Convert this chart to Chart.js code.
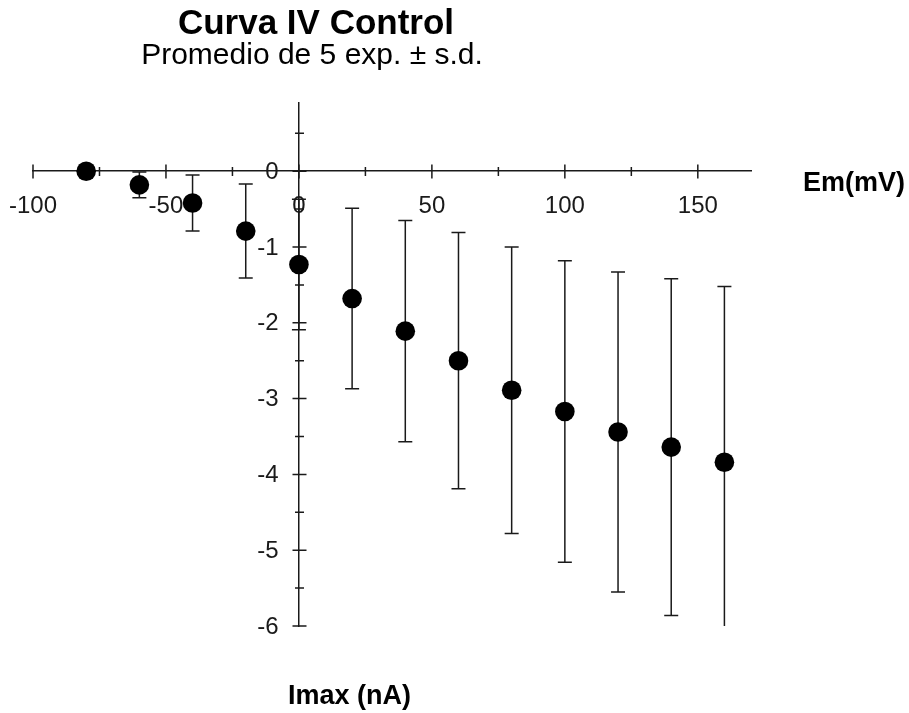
<!DOCTYPE html>
<html>
<head>
<meta charset="utf-8">
<title>Curva IV Control</title>
<script src="https://cdn.jsdelivr.net/npm/chart.js@4/dist/chart.umd.min.js"></script>
<style>
  html, body { margin: 0; padding: 0; background: #ffffff; }
  #wrap { width: 909px; height: 713px; }
</style>
</head>
<body>
<div id="wrap"><canvas id="ivChart" width="909" height="713"></canvas></div>
<script>
// Membrane potential steps (mV)
const voltages = [-80, -60, -40, -20, 0, 20, 40, 60, 80, 100, 120, 140, 160];
// Mean peak current (nA), n = 5
const currentMean = [0, -0.18, -0.42, -0.79, -1.23, -1.68, -2.11, -2.50, -2.89, -3.17, -3.44, -3.64, -3.84];
// Standard deviation (nA)
const currentSD = [0.03, 0.17, 0.37, 0.62, 0.86, 1.19, 1.46, 1.69, 1.89, 1.99, 2.11, 2.22, 2.32];

// Axis tick positions and their labels (empty label = minor tick)
const xTicks = [-100, -75, -50, -25, 0, 25, 50, 75, 100, 125, 150];
const xTickLabels = ['-100', '', '-50', '', '0', '', '50', '', '100', '', '150'];
const yTicks = [-6, -5.5, -5, -4.5, -4, -3.5, -3, -2.5, -2, -1.5, -1, -0.5, 0, 0.5];
const yTickLabels = ['-6', '', '-5', '', '-4', '', '-3', '', '-2', '', '-1', '', '0', ''];

const INK = '#1a1a1a';
const FONT = "'Liberation Sans', Arial, Helvetica, sans-serif";

// Error bars (mean ± s.d.) drawn under the markers, clipped to the plot area
const errorBars = {
  id: 'errorBars',
  beforeDatasetsDraw(chart) {
    const {ctx, chartArea, scales: {x, y}} = chart;
    ctx.save();
    ctx.beginPath();
    ctx.rect(chartArea.left, chartArea.top, chartArea.right - chartArea.left, chartArea.bottom - chartArea.top);
    ctx.clip();
    ctx.strokeStyle = INK;
    ctx.lineWidth = 1.5;
    const cap = 7;
    voltages.forEach((v, i) => {
      const px = x.getPixelForValue(v);
      const top = y.getPixelForValue(currentMean[i] + currentSD[i]);
      const bot = y.getPixelForValue(currentMean[i] - currentSD[i]);
      ctx.beginPath();
      ctx.moveTo(px, top); ctx.lineTo(px, bot);
      ctx.moveTo(px - cap, top); ctx.lineTo(px + cap, top);
      ctx.moveTo(px - cap, bot); ctx.lineTo(px + cap, bot);
      ctx.stroke();
    });
    ctx.restore();
  }
};

// Tick marks crossing both axis lines, plus the current-axis labels left of the line
const crossTicks = {
  id: 'crossTicks',
  beforeDatasetsDraw(chart) {
    const {ctx, scales: {x, y}} = chart;
    const x0 = Math.round(x.getPixelForValue(0)) + 0.5;
    const y0 = Math.round(y.getPixelForValue(0)) + 0.5;
    ctx.save();
    ctx.strokeStyle = INK;
    ctx.lineWidth = 1.5;
    ctx.beginPath();
    xTicks.forEach((v, i) => {
      const len = xTickLabels[i] ? 7 : 4.5;
      const px = x.getPixelForValue(v);
      ctx.moveTo(px, y0 - len); ctx.lineTo(px, y0 + len);
    });
    yTicks.forEach((v, i) => {
      const len = yTickLabels[i] ? 7 : 4.5;
      const py = y.getPixelForValue(v);
      ctx.moveTo(x0 - len, py); ctx.lineTo(x0 + len, py);
    });
    ctx.stroke();

    ctx.fillStyle = INK;
    ctx.font = `24px ${FONT}`;
    ctx.textAlign = 'right';
    ctx.textBaseline = 'middle';
    yTicks.forEach((v, i) => {
      if (yTickLabels[i]) ctx.fillText(yTickLabels[i], x0 - 21, y.getPixelForValue(v) + 1);
    });
    ctx.restore();
  }
};

// Title, subtitle and axis names
const captions = {
  id: 'captions',
  afterDraw(chart) {
    const ctx = chart.ctx;
    ctx.save();
    ctx.fillStyle = '#000';
    ctx.textBaseline = 'alphabetic';
    ctx.textAlign = 'center';
    ctx.font = `bold 35px ${FONT}`;
    ctx.fillText('Curva IV Control', 316, 34);
    ctx.font = `30px ${FONT}`;
    ctx.fillText('Promedio de 5 exp. \u00B1 s.d.', 312, 64);
    ctx.textAlign = 'left';
    ctx.font = `bold 27px ${FONT}`;
    ctx.fillText('Em(mV)', 803, 191);
    ctx.fillText('Imax (nA)', 288, 704);
    ctx.restore();
  }
};

const points = voltages.map((v, i) => ({x: v, y: currentMean[i]}));

new Chart(document.getElementById('ivChart'), {
  type: 'scatter',
  data: {
    datasets: [{
      label: 'Imax',
      data: points,
      backgroundColor: '#000',
      borderColor: '#000',
      borderWidth: 0,
      pointRadius: 9.8,
      pointHoverRadius: 9.8
    }]
  },
  options: {
    responsive: false,
    animation: false,
    devicePixelRatio: 1,
    layout: { padding: { left: 33, right: 158, top: 103, bottom: 87 } },
    plugins: {
      legend: { display: false },
      tooltip: { enabled: false },
      title: { display: false }
    },
    scales: {
      x: {
        type: 'linear',
        min: -100,
        max: 170,
        position: { y: 0 },
        afterBuildTicks: (s) => { s.ticks = xTicks.map(v => ({ value: v })); },
        afterFit: (s) => { s.height = 0; s.paddingLeft = 0; s.paddingRight = 0; },
        grid: { display: true, drawOnChartArea: false, drawTicks: false },
        border: { display: true, color: INK, width: 1.5 },
        ticks: {
          autoSkip: false,
          maxRotation: 0,
          padding: 21,
          color: INK,
          font: { family: FONT, size: 24 },
          callback: (v, i) => xTickLabels[i]
        }
      },
      y: {
        type: 'linear',
        min: -6,
        max: 0.9,
        position: { x: 0 },
        afterBuildTicks: (s) => { s.ticks = yTicks.map(v => ({ value: v })); },
        afterFit: (s) => { s.width = 0; s.paddingTop = 0; s.paddingBottom = 0; },
        grid: { display: true, drawOnChartArea: false, drawTicks: false },
        border: { display: true, color: INK, width: 1.5 },
        ticks: { display: false }
      }
    }
  },
  plugins: [errorBars, crossTicks, captions]
});
</script>
</body>
</html>
